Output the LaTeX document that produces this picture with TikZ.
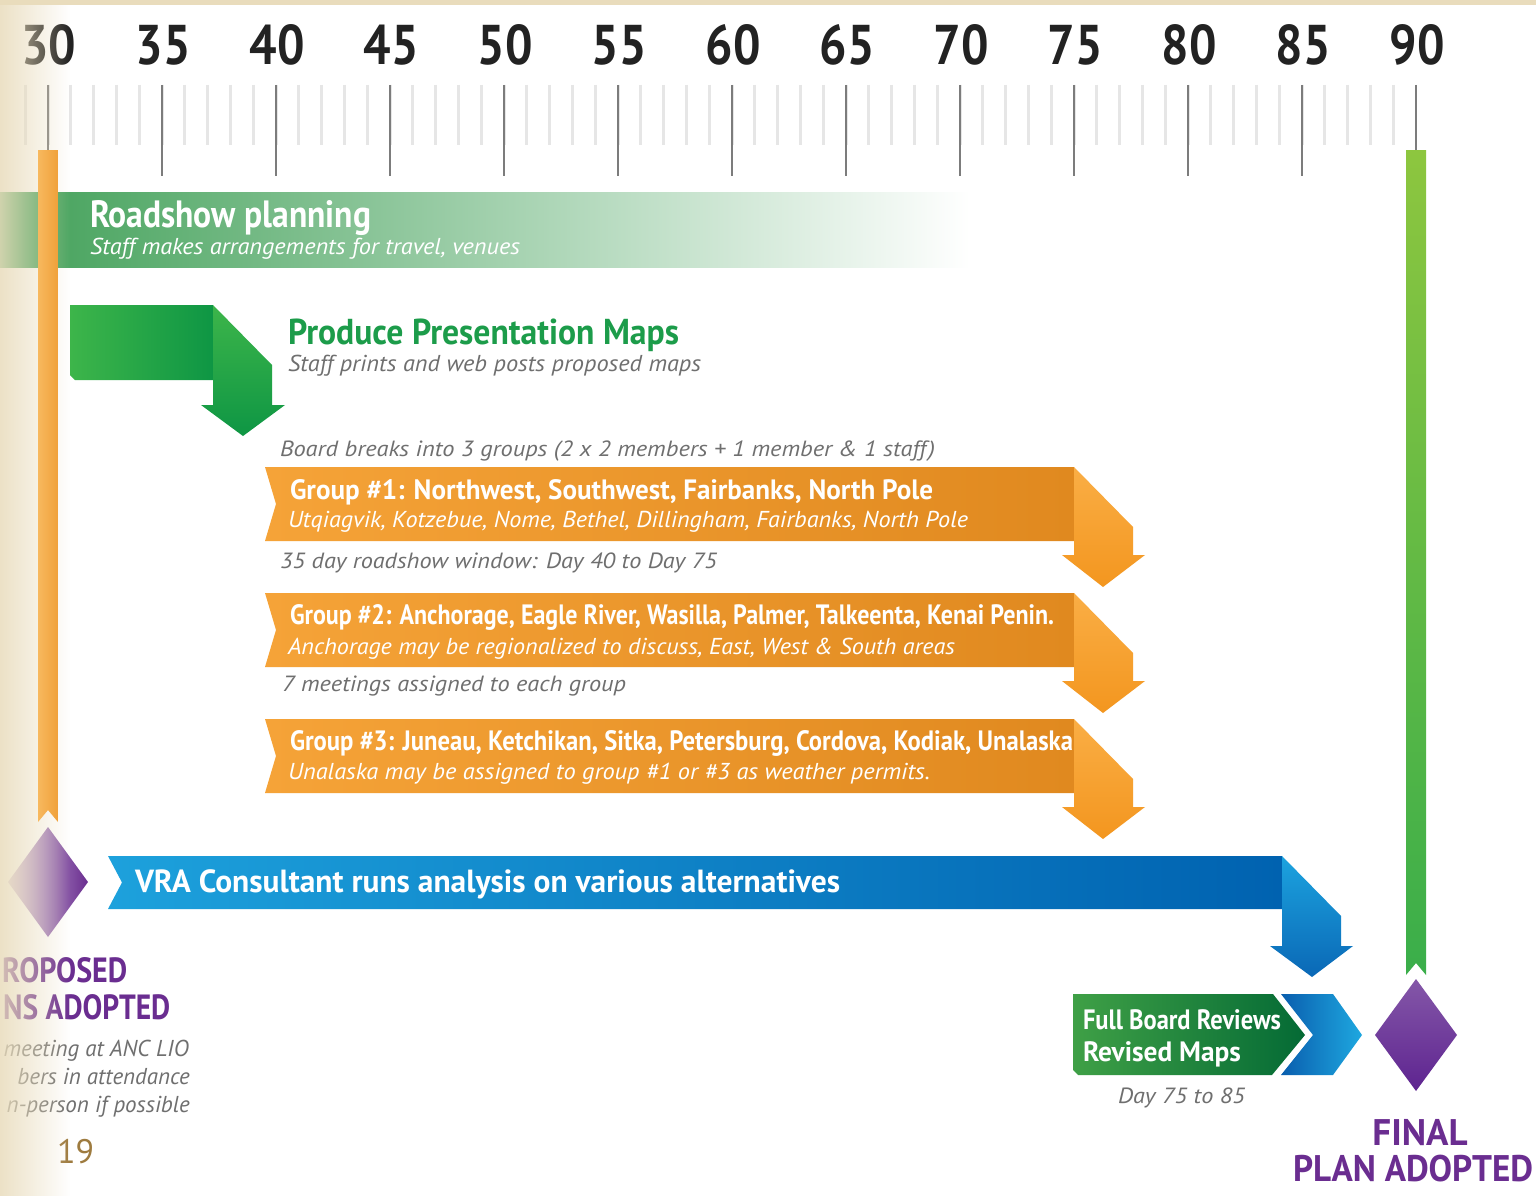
\documentclass[tikz,border=0pt]{standalone}
\usepackage{fontspec}
\setmainfont{PT Sans}
\usepackage{graphicx}
\usetikzlibrary{fadings}
\definecolor{beige}{HTML}{E9DCBC}
\definecolor{ticklight}{HTML}{E6E6E6}
\definecolor{tickdark}{HTML}{7C7C7C}
\definecolor{numblack}{HTML}{222222}
\definecolor{rgreen}{HTML}{41A058}
\definecolor{pgL}{HTML}{3DB54A}
\definecolor{pgR}{HTML}{0E9644}
\definecolor{ptitle}{HTML}{1C9C4A}
\definecolor{txtgray}{HTML}{6F6F6F}
\definecolor{ribL}{HTML}{F5A338}
\definecolor{ribR}{HTML}{E0891F}
\definecolor{bendT}{HTML}{FAAE45}
\definecolor{bendB}{HTML}{F3961F}
\definecolor{blueL}{HTML}{1DA1DC}
\definecolor{blueR}{HTML}{0062B0}
\definecolor{bbendT}{HTML}{1CA3DF}
\definecolor{bbendB}{HTML}{0A68B6}
\definecolor{purp}{HTML}{6A2D90}
\definecolor{purpL}{HTML}{8457A8}
\definecolor{purpD}{HTML}{5E2490}
\definecolor{pgold}{HTML}{9E7B3F}
\definecolor{barOL}{HTML}{F7B85E}
\definecolor{barOR}{HTML}{F0A13A}
\definecolor{barGT}{HTML}{8DC63F}
\definecolor{barGB}{HTML}{3AAE4A}
\definecolor{fbL}{HTML}{3FA046}
\definecolor{fbR}{HTML}{046A35}
\definecolor{chL}{HTML}{0A5EAE}
\definecolor{chR}{HTML}{1EA8E0}
\tikzfading[name=fadeR, left color=transparent!15, right color=transparent!100]
\newcommand\wfit[2]{\resizebox{#1}{\height}{#2}}
\newcommand\orib[1]{%
  \shade[left color=ribL, right color=ribR] (265,#1) -- (1074,#1) -- (1074,{#1+74}) -- (265,{#1+74}) -- (276,{#1+37}) -- cycle;
  \shade[top color=bendT, bottom color=bendB] (1074,#1) -- (1133,{#1+60}) -- (1133,{#1+88}) -- (1145,{#1+88}) -- (1103,{#1+120}) -- (1062,{#1+88}) -- (1074,{#1+88}) -- cycle;}
\begin{document}
\begin{tikzpicture}[x=1pt,y=-1pt,
  txt/.style={inner sep=0pt, outer sep=0pt, anchor=base west},
  gtxt/.style={txt, text=txtgray, font=\fontsize{22}{24}\selectfont\itshape},
  wtitle/.style={txt, text=white, font=\fontsize{28}{30}\selectfont\bfseries},
  wsub/.style={txt, text=white, font=\fontsize{23}{25}\selectfont\itshape},
  numlab/.style={inner sep=0pt, anchor=base, text=numblack, font=\fontsize{56}{58}\selectfont\bfseries},
  ptxt/.style={inner sep=0pt, anchor=base west, text=purp, font=\fontsize{35}{36}\selectfont\bfseries},
]
\useasboundingbox (0,0) rectangle (1536,1196);
\clip (0,0) rectangle (1536,1196);
\fill[white] (0,0) rectangle (1536,1196);
\fill[beige] (0,0) rectangle (1536,5);

% ruler
\foreach \d in {29,...,89} \draw[ticklight, line width=3pt] ({48+(\d-30)*22.8},85) -- ++(0,60);
\foreach \d in {30,35,...,90} \draw[tickdark, line width=2.6pt] ({48+(\d-30)*22.8},85) -- ++(0,91);
\foreach \d in {30,35,...,90} \node[numlab] (n\d) at ({49+(\d-30)*22.8},65) {\wfit{55pt}{\d}};

% roadshow planning band
\shade[left color=rgreen, middle color=rgreen!55, right color=white] (0,192) rectangle (970,267);
\node[txt, text=white, font=\fontsize{38}{40}\selectfont\bfseries] (rp) at (90,227) {\wfit{281pt}{Roadshow planning}};
\node[wsub] (rps) at (90,254) {\wfit{430pt}{Staff makes arrangements for travel, venues}};

% produce presentation maps
\shade[left color=pgL, right color=pgR] (70,305) -- (213,305) -- (213,380) -- (75,380) -- (70,375) -- cycle;
\shade[top color=pgL, bottom color=pgR] (213,305) -- (272,365) -- (272,405) -- (285,405) -- (243,436) -- (201,405) -- (213,405) -- cycle;
\node[txt, text=ptitle, font=\fontsize{36}{38}\selectfont\bfseries] (pm) at (288,344) {\wfit{391pt}{Produce Presentation Maps}};
\node[gtxt, font=\fontsize{23}{25}\selectfont\itshape] (pms) at (288,371) {\wfit{413pt}{Staff prints and web posts proposed maps}};

\node[gtxt] (bb) at (280,456) {\wfit{655pt}{Board breaks into 3 groups (2 x 2 members + 1 member \& 1 staff)}};

% groups
\orib{467}
\orib{593}
\orib{719}
\node[wtitle] (g1t) at (290,499) {\wfit{643pt}{Group \#1: Northwest, Southwest, Fairbanks, North Pole}};
\node[wsub] (g1s) at (288,527) {\wfit{680pt}{Utqiagvik, Kotzebue, Nome, Bethel, Dillingham, Fairbanks, North Pole}};
\node[gtxt] (w35) at (280,568) {\wfit{437pt}{35 day roadshow window: Day 40 to Day 75}};
\node[wtitle] (g2t) at (290,624) {\wfit{764pt}{Group \#2: Anchorage, Eagle River, Wasilla, Palmer, Talkeenta, Kenai Penin.}};
\node[wsub] (g2s) at (288,654) {\wfit{667pt}{Anchorage may be regionalized to discuss, East, West \& South areas}};
\node[gtxt] (m7) at (282,691) {\wfit{344pt}{7 meetings assigned to each group}};
\node[wtitle] (g3t) at (290,750) {\wfit{783pt}{Group \#3: Juneau, Ketchikan, Sitka, Petersburg, Cordova, Kodiak, Unalaska}};
\node[wsub] (g3s) at (288,779) {\wfit{642pt}{Unalaska may be assigned to group \#1 or \#3 as weather permits.}};

% VRA consultant arrow
\shade[left color=blueL, right color=blueR] (108,856) -- (1282,856) -- (1282,909) -- (108,909) -- (122,882.5) -- cycle;
\shade[top color=bbendT, bottom color=bbendB] (1282,856) -- (1341,916) -- (1341,946) -- (1353,946) -- (1312,977) -- (1270,946) -- (1282,946) -- cycle;
\node[txt, text=white, font=\fontsize{32}{34}\selectfont\bfseries] (vra) at (135,892) {\wfit{705pt}{VRA Consultant runs analysis on various alternatives}};

% left milestone
\shade[left color=purp!25, right color=purp] (48,827) -- (88,882) -- (48,937) -- (8,882) -- cycle;
\node[ptxt] (pp1) at (2,982) {\wfit{125pt}{ROPOSED}};
\node[ptxt] (pp2) at (3,1019) {\wfit{167pt}{NS ADOPTED}};
\node[inner sep=0pt, anchor=base east, text=txtgray, font=\fontsize{23}{25}\selectfont\itshape] (pl1) at (189,1056) {meeting at ANC LIO};
\node[inner sep=0pt, anchor=base east, text=txtgray, font=\fontsize{23}{25}\selectfont\itshape] (pl2) at (190,1084) {bers in attendance};
\node[inner sep=0pt, anchor=base east, text=txtgray, font=\fontsize{23}{25}\selectfont\itshape] (pl3) at (190,1112) {n-person if possible};
\node[txt, text=pgold, font=\fontsize{34}{36}\selectfont] (pg) at (57,1163) {19};

% beige fading on the left edge
\fill[beige, path fading=fadeR] (0,0) rectangle (70,1196);

% vertical bars
\shade[left color=barOL, right color=barOR] (38,150) -- (58,150) -- (58,822) -- (48,810) -- (38,822) -- cycle;
\shade[top color=barGT, bottom color=barGB] (1406,150) -- (1426,150) -- (1426,975) -- (1416,963) -- (1406,975) -- cycle;

% full board reviews
\shade[left color=fbL, right color=fbR] (1073,994) -- (1273,994) -- (1305,1035) -- (1272,1075) -- (1078,1075) -- (1073,1070) -- cycle;
\shade[left color=chL, right color=chR] (1281,994) -- (1333,994) -- (1362,1035) -- (1333,1075) -- (1281,1075) -- (1313,1035) -- cycle;
\node[wtitle] (fb1) at (1083,1029) {\wfit{198pt}{Full Board Reviews}};
\node[wtitle] (fb2) at (1083,1061) {\wfit{158pt}{Revised Maps}};
\node[gtxt] (d75) at (1118,1103) {\wfit{127pt}{Day 75 to 85}};

% final milestone
\shade[top color=purpL, bottom color=purpD] (1416,979) -- (1457,1035) -- (1416,1091) -- (1375,1035) -- cycle;
\node[inner sep=0pt, anchor=base, text=purp, font=\fontsize{37}{38}\selectfont\bfseries] (fin) at (1420,1145) {FINAL};
\node[txt, text=purp, font=\fontsize{37}{38}\selectfont\bfseries] (pad) at (1293,1181) {\wfit{240pt}{PLAN ADOPTED}};
\end{tikzpicture}
\end{document}
